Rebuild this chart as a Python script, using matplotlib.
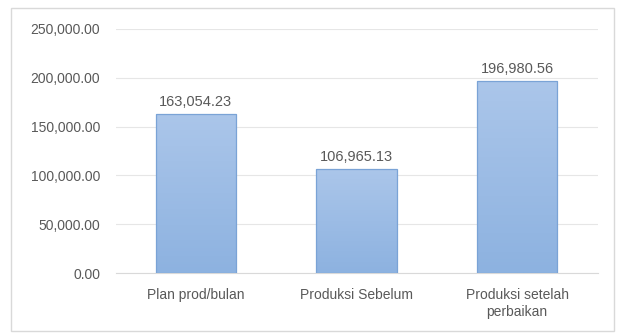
import numpy as np
import matplotlib
matplotlib.use('Agg')
import matplotlib.pyplot as plt
from matplotlib.patches import Rectangle

# Data
categories = ['Plan prod/bulan', 'Produksi Sebelum', 'Produksi setelah\nperbaikan']
values = [163054.23, 106965.13, 196980.56]
yticks = [0, 50000, 100000, 150000, 200000, 250000]

plt.rcParams['font.family'] = ['Liberation Sans', 'DejaVu Sans']
text_color = '#595959'

fig = plt.figure(figsize=(6.19, 3.34), dpi=100)
fig.patches.append(Rectangle((11 / 619, 1 - 331 / 334), 603 / 619, 323 / 334,
                             transform=fig.transFigure, fill=False,
                             edgecolor='#d9d9d9', linewidth=1))
ax = fig.add_axes([0.1866, 0.1826, 0.7787, 0.7306])

x = np.arange(len(categories))
bars = ax.bar(x, values, width=0.5, color='#9dbde6', linewidth=0, zorder=3)

# gradient fill inside each bar, then the border on top
grad = np.linspace(0, 1, 100).reshape(-1, 1)
cmap = matplotlib.colors.LinearSegmentedColormap.from_list('g', ['#8db2e0', '#abc6ea'])
for b in bars:
    bx, bw, bh = b.get_x(), b.get_width(), b.get_height()
    im = ax.imshow(grad, extent=[bx, bx + bw, 0, bh], origin='lower', cmap=cmap,
                   aspect='auto', zorder=3.5)
    im.set_clip_path(b)
ax.bar(x, values, width=0.5, fill=False, edgecolor='#7aa3d6', linewidth=0.9, zorder=4)

for xi, v in zip(x, values):
    ax.text(xi, v + 5000, f'{v:,.2f}', ha='center', va='bottom',
            fontsize=10.5, color=text_color)

ax.set_xlim(-0.5, 2.5)
ax.set_ylim(0, 250000)
ax.set_yticks(yticks)
ax.set_yticklabels([f'{t:,.2f}' for t in yticks])
ax.set_xticks(x)
ax.set_xticklabels(categories, linespacing=1.25)
ax.tick_params(axis='both', length=0, labelsize=10, labelcolor=text_color)
ax.tick_params(axis='y', pad=11)
ax.tick_params(axis='x', pad=11)
ax.grid(axis='y', color='#e6e6e6', linewidth=0.8, zorder=0)
for s in ['top', 'right', 'left']:
    ax.spines[s].set_visible(False)
ax.spines['bottom'].set_color('#d9d9d9')

fig.savefig('out.png', dpi=100)
